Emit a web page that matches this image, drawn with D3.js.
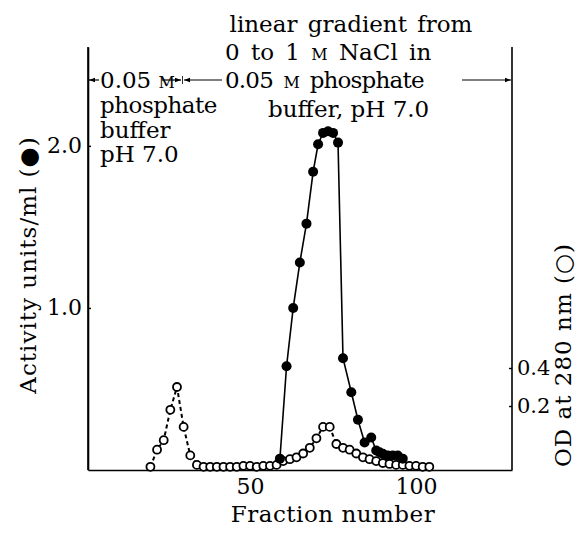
<!DOCTYPE html>
<html><head><meta charset="utf-8">
<script src="https://cdn.jsdelivr.net/npm/d3@7"></script>
<style>body{margin:0;background:#fff}</style>
</head><body>
<svg id="c" width="581" height="533"></svg>
<script>
// ---- data ----
const activityFractions = [59, 61, 63, 65, 67, 69, 70.5, 72, 73.5, 75, 76.5, 78, 80.5, 82.5, 84.5, 86.5, 88, 89, 90, 91.5, 93, 94.5, 96];
const activityValues    = [0.07, 0.64, 1.00, 1.28, 1.52, 1.84, 2.01, 2.08, 2.09, 2.08, 2.02, 0.69, 0.48, 0.31, 0.17, 0.20, 0.12, 0.11, 0.10, 0.09, 0.09, 0.09, 0.07];
const odFractions = [20, 22, 24, 26, 28, 30, 32, 34, 36, 38, 40, 42, 44, 46, 48, 50, 52, 54, 56, 58, 60, 62, 64, 66, 68, 70, 72, 74, 76, 78, 80, 82, 84, 86, 88, 90, 92, 94, 96, 98, 100, 102, 104];
const odValues    = [-0.12, -0.03, 0.02, 0.18, 0.30, 0.09, -0.06, -0.11, -0.12, -0.12, -0.12, -0.12, -0.12, -0.12, -0.115, -0.115, -0.12, -0.115, -0.115, -0.11, -0.09, -0.08, -0.07, -0.05, -0.02, 0.03, 0.09, 0.09, 0.00, -0.02, -0.03, -0.05, -0.07, -0.08, -0.09, -0.10, -0.105, -0.11, -0.11, -0.115, -0.115, -0.12, -0.12];
const xTicks = [50, 100];
const leftTicks = [1.0, 2.0];
const rightTicks = [0.2, 0.4];

// ---- layout ----
const svg = d3.select("#c");
const FONT = "DejaVu Serif";
const x = d3.scaleLinear().domain([1.2, 128.9]).range([88, 512]);
const yL = d3.scaleLinear().domain([0, 2.61]).range([470, 47]);
const yR = d3.scaleLinear().domain([0, 0.4]).range([444, 368]);

// axes
const gx = svg.append("g").attr("transform", "translate(0,470)")
  .call(d3.axisBottom(x).tickValues(xTicks).tickFormat(d3.format("d")).tickSize(-3).tickSizeOuter(0).tickPadding(8));
const gl = svg.append("g").attr("transform", "translate(88,0)")
  .call(d3.axisLeft(yL).tickValues(leftTicks).tickFormat(d3.format(".1f")).tickSize(-3).tickSizeOuter(0).tickPadding(6));
const gr = svg.append("g").attr("transform", "translate(512,0)")
  .call(d3.axisRight(yR).tickValues(rightTicks).tickFormat(d3.format(".1f")).tickSize(-3).tickSizeOuter(0).tickPadding(5));
svg.append("line").attr("x1", 512).attr("x2", 512).attr("y1", 47).attr("y2", 470).attr("stroke", "#000").attr("stroke-width", 1.6);
[gx, gl, gr].forEach(g => {
  g.selectAll("path.domain").attr("stroke", "#000").attr("stroke-width", 1.6);
  g.selectAll("line").attr("stroke", "#000").attr("stroke-width", 1.4);
  g.selectAll("text").attr("font-family", FONT).attr("font-size", 22).attr("fill", "#000");
});
gr.selectAll("text").attr("font-size", 21);
gr.select("path.domain").remove();

// OD curve (dashed) + open circles
svg.append("path")
  .datum(odFractions.map((f, i) => [f, odValues[i]]))
  .attr("fill", "none").attr("stroke", "#000").attr("stroke-width", 2)
  .attr("stroke-dasharray", "4,3")
  .attr("d", d3.line().x(d => x(d[0])).y(d => yR(d[1])));
svg.append("g").selectAll("circle")
  .data(odFractions.map((f, i) => [f, odValues[i]]))
  .join("circle")
  .attr("cx", d => x(d[0])).attr("cy", d => yR(d[1])).attr("r", 4)
  .attr("fill", "#fff").attr("stroke", "#000").attr("stroke-width", 1.8);

// activity curve
svg.append("path")
  .datum(activityFractions.map((f, i) => [f, activityValues[i]]))
  .attr("fill", "none").attr("stroke", "#000").attr("stroke-width", 1.6)
  .attr("d", d3.line().x(d => x(d[0])).y(d => yL(d[1])));
svg.append("g").selectAll("circle")
  .data(activityFractions.map((f, i) => [f, activityValues[i]]))
  .join("circle")
  .attr("cx", d => x(d[0])).attr("cy", d => yL(d[1])).attr("r", 5)
  .attr("fill", "#000");

// axis titles
svg.append("text").attr("x", 333).attr("y", 522).attr("text-anchor", "middle")
  .attr("font-family", FONT).attr("font-size", 23).attr("letter-spacing", 0.5).text("Fraction number");
svg.append("text").attr("transform", "translate(36,265) rotate(-90)").attr("text-anchor", "middle")
  .attr("font-family", FONT).attr("font-size", 23).attr("letter-spacing", 1).text("Activity units/ml (\u25CF)");
svg.append("text").attr("transform", "translate(571,355) rotate(-90)").attr("text-anchor", "middle")
  .attr("font-family", FONT).attr("font-size", 23).attr("letter-spacing", 1).text("OD at 280 nm (\u25CB)");

// annotations
function txt(xp, yp, parts, anchor, ls, ws) {
  const t = svg.append("text").attr("x", xp).attr("y", yp).attr("font-family", FONT)
    .attr("font-size", 23).attr("text-anchor", anchor || "start");
  if (ls) t.attr("letter-spacing", ls);
  if (ws) t.attr("word-spacing", ws);
  parts.forEach(p => {
    const s = t.append("tspan").text(p[0]);
    if (p[1]) s.attr("font-size", 16);
  });
}
txt(351, 32, [["linear gradient from"]], "middle", 0, 3);
txt(225, 60, [["0 to 1 "], ["M", 1], [" NaCl in"]], "start", 0, 4);
txt(225, 88, [["0.05 "], ["M", 1], [" phosphate"]], "start", -0.8, 4);
txt(268, 117, [["buffer, pH 7.0"]]);
txt(100, 88, [["0.05 "], ["M", 1]]);
txt(100, 113, [["phosphate"]], "start", -0.5);
txt(100, 138, [["buffer"]]);
txt(100, 162, [["pH 7.0"]]);

// arrows
const ay = 80;
function arrowLine(x1, x2) {
  svg.append("line").attr("x1", x1).attr("x2", x2).attr("y1", ay).attr("y2", ay).attr("stroke", "#000").attr("stroke-width", 1.2);
}
function head(xp, dir) {
  svg.append("path").attr("d", `M${xp},${ay} L${xp - dir * 6},${ay - 2.2} L${xp - dir * 6},${ay + 2.2} Z`).attr("fill", "#000");
}
svg.append("line").attr("x1", 88).attr("x2", 88).attr("y1", 47).attr("y2", 470).attr("stroke", "#000").attr("stroke-width", 1.6);
arrowLine(89, 99); head(89, -1);
arrowLine(162, 181); head(181, 1);
arrowLine(184, 222); head(184, -1);
svg.append("line").attr("x1", 182.5).attr("x2", 182.5).attr("y1", ay - 4).attr("y2", ay + 4).attr("stroke", "#000").attr("stroke-width", 0.8);
arrowLine(462, 511); head(511, 1);
</script>
</body></html>
